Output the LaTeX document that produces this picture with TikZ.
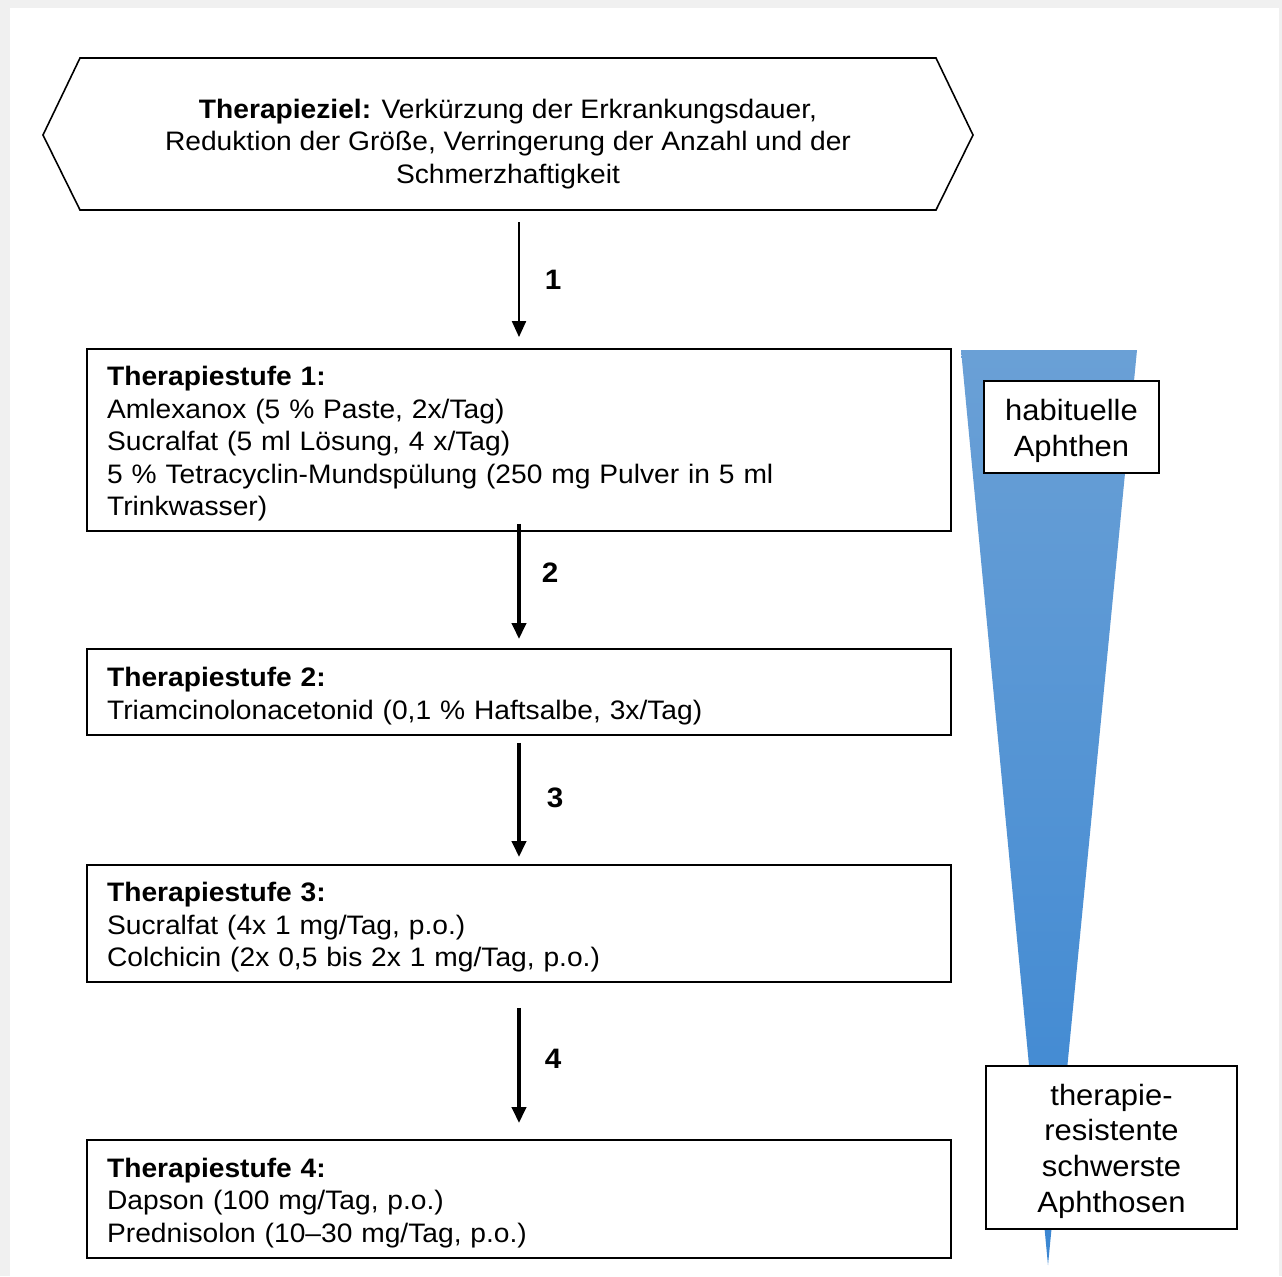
\documentclass[tikz,border=0pt]{standalone}
\usepackage{fontspec}
\setmainfont[FakeStretch=1.055]{Liberation Sans}
\usetikzlibrary{arrows.meta,calc}

\tikzset{
  stufe/.style={draw, line width=1.1pt, fill=white, text width=16.48cm,
    inner xsep=0.4cm, inner ysep=0pt, align=left,
    font=\fontsize{15.2}{18.5}\selectfont,
    execute at begin node=\rule{0pt}{15.6pt}},
  seitenbox/.style={draw, line width=1.3pt, fill=white, align=center,
    inner sep=0pt, font=\fontsize{16.7}{20.3}\selectfont,
    execute at begin node=\rule{0pt}{16.2pt}},
  pfeil/.style={-{Triangle[length=0.32cm,width=0.28cm]}, line width=2.2pt},
  nummer/.style={font=\fontsize{16}{19}\bfseries\selectfont}
}

\begin{document}
\begin{tikzpicture}[x=0.02cm, y=-0.02cm]

    % Hintergrund
    \fill[gray!12] (0,0) rectangle (1282,1276);
    \fill[white] (10,8) rectangle (1279,1276);

    % Therapieziel
    \draw[line width=0.9pt, fill=white] (43,135) -- (80,58) -- (936,58) -- (973,135) -- (936,210) -- (80,210) -- cycle;
    \node[align=center, font=\fontsize{15.2}{18.5}\selectfont] (ziel) at (508,144)
        {\textbf{Therapieziel:} Verkürzung der Erkrankungsdauer,\\
         Reduktion der Größe, Verringerung der Anzahl und der\\
         Schmerzhaftigkeit};
    \coordinate (zielunten) at (519,222);

    % Keil
    \shade[top color={rgb,255:red,106;green,160;blue,214}, bottom color={rgb,255:red,58;green,134;blue,210}]
        (961,350) -- (1137,350) -- (1048,1265) -- cycle;

    % Therapiestufen
    \node[stufe, minimum height=3.64cm] (s1) at (519,440)
        {\textbf{Therapiestufe 1:}\\
         Amlexanox (5 \% Paste, 2x/Tag)\\
         Sucralfat (5 ml Lösung, 4 x/Tag)\\
         5 \% Tetracyclin-Mundspülung (250 mg Pulver in 5 ml\\
         Trinkwasser)};
    \node[stufe, minimum height=1.72cm] (s2) at (519,692)
        {\textbf{Therapiestufe 2:}\\
         Triamcinolonacetonid (0,1 \% Haftsalbe, 3x/Tag)};
    \node[stufe, minimum height=2.34cm] (s3) at (519,923.5)
        {\textbf{Therapiestufe 3:}\\
         Sucralfat (4x 1 mg/Tag, p.o.)\\
         Colchicin (2x 0,5 bis 2x 1 mg/Tag, p.o.)};
    \node[stufe, minimum height=2.36cm] (s4) at (519,1199)
        {\textbf{Therapiestufe 4:}\\
         Dapson (100 mg/Tag, p.o.)\\
         Prednisolon (10--30 mg/Tag, p.o.)};

    % Seitenboxen
    \node[seitenbox, text width=3.5cm, minimum height=1.84cm] (habituell) at (1071.5,427)
        {habituelle\\Aphthen};
    \node[seitenbox, text width=5.02cm, minimum height=3.26cm] (resistent) at (1111.5,1147.5)
        {therapie-\\resistente\\schwerste\\Aphthosen};

    % Pfeile
    \draw[pfeil, line width=1.2pt] (zielunten) -- ($(s1.north)+(0,-11)$);
    \draw[pfeil] ($(s1.south)+(0,-8)$) -- ($(s2.north)+(0,-9)$);
    \draw[pfeil] ($(s2.south)+(0,7)$) -- ($(s3.north)+(0,-7)$);
    \draw[pfeil] ($(s3.south)+(0,25)$) -- ($(s4.north)+(0,-16)$);

    \node[nummer] (n1) at (553,280) {1};
    \node[nummer] (n2) at (550,573) {2};
    \node[nummer] (n3) at (555,798) {3};
    \node[nummer] (n4) at (553,1059) {4};

\end{tikzpicture}
\end{document}
